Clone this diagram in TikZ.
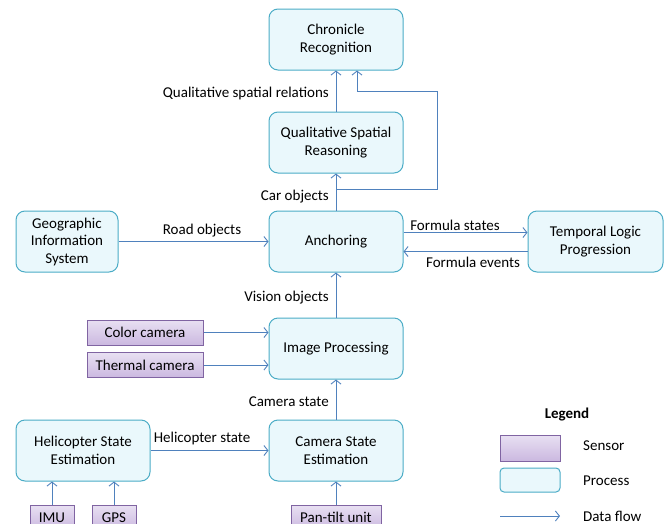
\documentclass[tikz,border=0pt]{standalone}
\usepackage{fontspec}
\setmainfont{Carlito}
\usetikzlibrary{arrows.meta,positioning}
\definecolor{procfill}{HTML}{EAF8FC}
\definecolor{procline}{HTML}{4BACC6}
\definecolor{sensline}{HTML}{8064A2}
\definecolor{senstop}{HTML}{E8E0F2}
\definecolor{sensbot}{HTML}{CBB8E0}
\definecolor{flowcol}{HTML}{4F81BD}
\tikzset{
	every node/.style={font=\fontsize{15}{17.5}\selectfont},
	proc/.style={draw=procline,fill=procfill,rounded corners=9pt,line width=1pt,
		minimum width=134pt,minimum height=61pt,align=center,inner sep=0pt},
	sensor/.style={draw=sensline,top color=senstop,bottom color=sensbot,line width=1pt,
		minimum height=25pt,inner sep=0pt},
	flow/.style={draw=flowcol,line width=.9pt,-{Straight Barb[length=4pt,width=10pt]}},
	lbl/.style={inner sep=0pt}
}
\begin{document}
\begin{tikzpicture}[x=1pt,y=-1pt]
	\useasboundingbox (0,0) rectangle (665,523);
	\clip (0,0) rectangle (665,523);
	% processes
	\node[proc] (chron) at (336,39.5) {Chronicle\\Recognition};
	\node[proc] (qsr) at (336,142.5) {Qualitative Spatial\\Reasoning};
	\node[proc] (anch) at (336,241.5) {Anchoring};
	\node[proc,minimum width=102pt] (gis) at (67,241.5) {Geographic\\Information\\System};
	\node[proc,minimum width=135pt] (tlp) at (595.5,241.5) {Temporal Logic\\Progression};
	\node[proc] (ip) at (336,348.5) {Image Processing};
	\node[proc] (cse) at (336,450.5) {Camera State\\Estimation};
	\node[proc] (hse) at (83,450.5) {Helicopter State\\Estimation};
	% sensors
	\node[sensor,minimum width=116pt] (color) at (145,332.5) {Color camera};
	\node[sensor,minimum width=116pt] (thermal) at (145,365) {Thermal camera};
	\node[sensor,minimum width=44pt] (imu) at (52,517.5) {IMU};
	\node[sensor,minimum width=44pt] (gps) at (114,517.5) {GPS};
	\node[sensor,minimum width=90pt] (pantilt) at (336,517.5) {Pan-tilt unit};
	% data flow
	\draw[flow] (qsr) -- (chron);
	\draw[flow] (anch) -- (qsr);
	\coordinate (split) at (336,189);
	\draw[flow] (split) -- (437,189) -- (437,91) -| ([xshift=21pt]chron.south);
	\draw[flow] (gis) -- (anch);
	\draw[flow] ([yshift=9pt]anch.east) -- ([yshift=9pt]tlp.west);
	\draw[flow] ([yshift=-10pt]tlp.west) -- ([yshift=-10pt]anch.east);
	\draw[flow] (ip) -- (anch);
	\draw[flow] (color.east) -- (color.east -| ip.west);
	\draw[flow] (thermal.east) -- (thermal.east -| ip.west);
	\draw[flow] (cse) -- (ip);
	\draw[flow] (hse) -- (cse);
	\draw[flow] (imu.north) -- (imu.north |- hse.south);
	\draw[flow] (gps.north) -- (gps.north |- hse.south);
	\draw[flow] (pantilt) -- (cse);
	% labels
	\node[lbl,anchor=east] (lqsr) at (329,93) {Qualitative spatial relations};
	\node[lbl,anchor=east] (lcar) at (329,197) {Car objects};
	\node[lbl] (lroad) at (202,231) {Road objects};
	\node[lbl] (lstates) at (455,225) {Formula states};
	\node[lbl] (levents) at (473,262) {Formula events};
	\node[lbl,anchor=east] (lvision) at (329,298) {Vision objects};
	\node[lbl,anchor=east] (lcam) at (329,402) {Camera state};
	\node[lbl] (lheli) at (202,438) {Helicopter state};
	% legend
	\node[lbl,font=\fontsize{15}{17.5}\selectfont\bfseries] (legend) at (567,415) {Legend};
	\node[sensor,minimum width=60pt,minimum height=26pt] (lsens) at (530,448) {};
	\node[proc,minimum width=60pt,minimum height=24pt,rounded corners=4pt] (lproc) at (530,480) {};
	\coordinate (lflowa) at (500,516);
	\coordinate (lflowb) at (560,516);
	\draw[flow] (lflowa) -- (lflowb);
	\node[lbl,anchor=west] (tsens) at (583,446) {Sensor};
	\node[lbl,anchor=west] (tproc) at (583,481) {Process};
	\node[lbl,anchor=west] (tflow) at (583,516) {Data flow};
\end{tikzpicture}
\end{document}
